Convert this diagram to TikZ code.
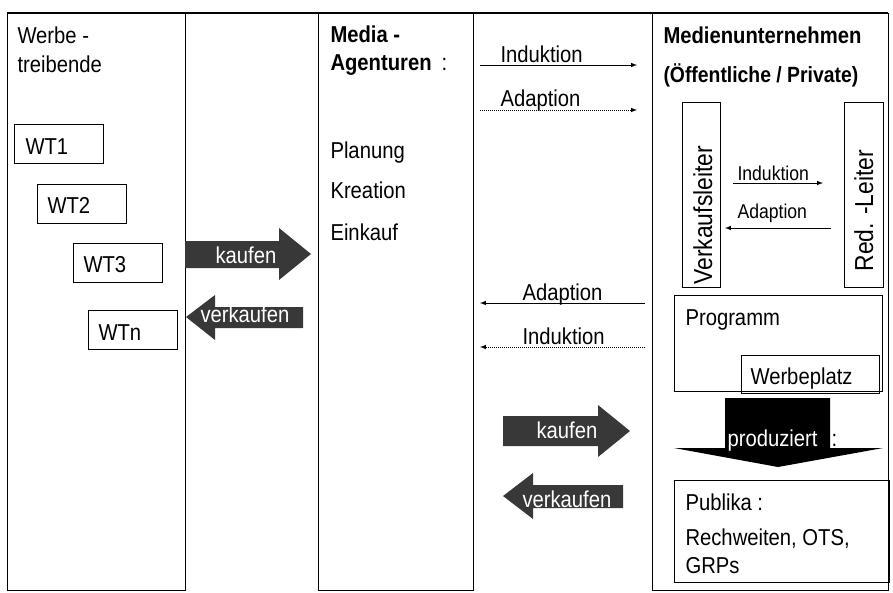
\documentclass[tikz,border=0pt]{standalone}
\usepackage{fontspec}
\setmainfont{Liberation Sans}[FakeStretch=0.88]
\begin{document}
\begin{tikzpicture}[x=1pt,y=-1pt,line width=1pt,font=\fontsize{23}{27}\selectfont,
  txt/.style={anchor=base west,inner sep=0pt},
  wtxt/.style={txt,text=white},
  box/.style={draw,anchor=north west,inner sep=0pt},
  wtbox/.style={box,minimum width=89pt,minimum height=39pt},
  blk/.style={fill=black!78,draw=none}]
\pgfmathsetmacro{\ktop}{13}
\pgfmathsetmacro{\kbot}{590}
\useasboundingbox (0,0) rectangle (893,592);
%columns
\draw (7,\ktop) rectangle (185,\kbot);
\draw (318,\ktop) rectangle (473,\kbot);
\draw (652,\ktop) rectangle (888,\kbot);
\draw[line width=2pt] (7,\ktop)--(888,\ktop);
%werbetreibende
\node[txt] (wt) at (17,43) {Werbe -};
\node[txt] (wtb) at (17,72) {treibende};
\node[wtbox] (wt1) at (14,124) {};
\node[wtbox] (wt2) at (37,184) {};
\node[wtbox] (wt3) at (73,243) {};
\node[wtbox] (wtn) at (88,310) {};
\node[txt] at (25,154) {WT1};
\node[txt] at (47,213) {WT2};
\node[txt] at (83,272) {WT3};
\node[txt] at (98,340) {WTn};
%agenturen
\node[txt,font=\fontsize{23}{27}\selectfont\bfseries] (ma) at (330,42) {Media -};
\node[txt] (mb) at (330,70) {\textbf{Agenturen}\hspace{10pt}:};
\node[txt] (pl) at (330,158) {Planung};
\node[txt] (kr) at (330,198) {Kreation};
\node[txt] (ek) at (330,240) {Einkauf};
%block arrows
\draw[blk] (185,241)--++(94,0)--++(0,-13)--(311,254)--(279,280)--++(0,-12)--(185,268)--cycle;
\node[wtxt] (k1) at (215,263) {kaufen};
\draw[blk] (186,317)--(215,295)--++(0,12)--(303,307)--++(0,21)--(215,328)--++(0,12)--cycle;
\node[wtxt] (v1) at (200,322) {verkaufen};
\draw[blk] (503,416)--++(95,0)--++(0,-11)--(630,431)--(598,457)--++(0,-11)--(503,446)--cycle;
\node[wtxt] (k2) at (536,438) {kaufen};
\draw[blk] (503,496)--(533,473)--++(0,12)--(623,485)--++(0,23)--(533,508)--++(0,11)--cycle;
\node[wtxt] (v2) at (522,507) {verkaufen};
%induktion / adaption
\coordinate (ia) at (480,65); \coordinate (ib) at (637,65);
\coordinate (aa) at (480,110); \coordinate (ab) at (637,110);
\coordinate (ac) at (645,303); \coordinate (ad) at (480,303);
\coordinate (ic) at (645,347); \coordinate (id) at (480,347);
\draw[-latex] (ia)--(ib);
\draw[-latex,densely dotted] (aa)--(ab);
\draw[-latex] (ac)--(ad);
\draw[-latex,densely dotted] (ic)--(id);
\node[txt] at (500,62) {Induktion};
\node[txt] at (500,106) {Adaption};
\node[txt] at (522,300) {Adaption};
\node[txt] at (522,344) {Induktion};
%medienunternehmen
\node[txt,font=\fontsize{23}{27}\selectfont\bfseries] (mu) at (663,43) {Medienunternehmen};
\node[txt,font=\fontsize{22}{26}\selectfont\bfseries] (op) at (663,82) {(Öffentliche / Private)};
\node[box,minimum width=38pt,minimum height=185pt] (vkl) at (682,102) {};
\node[box,minimum width=39pt,minimum height=185pt] (rl) at (844,102) {};
\node[txt,rotate=90,font=\fontsize{26}{30}\selectfont] at (712,285) {Verkaufsleiter};
\node[txt,rotate=90,font=\fontsize{26}{30}\selectfont] at (873,272) {Red. -Leiter};
\coordinate (va) at (733,183); \coordinate (vb) at (823,183);
\coordinate (ra) at (831,228); \coordinate (rb) at (725,228);
\draw[-latex] (va)--(vb);
\draw[-latex] (ra)--(rb);
\node[txt,font=\fontsize{20}{24}\selectfont] at (737,180) {Induktion};
\node[txt,font=\fontsize{20}{24}\selectfont] at (737,218) {Adaption};
\node[box,minimum width=208pt,minimum height=96pt] (pg) at (674,295) {};
\node[txt] at (685,325) {Programm};
\node[box,minimum width=138pt,minimum height=38pt] (wp) at (741,355) {};
\node[txt] at (750,384) {Werbeplatz};
%produziert
\draw[fill=black,draw=none] (725,398)--++(105,0)--++(0,50)--(883,448)--(778,467)--(674,448)--(725,448)--cycle;
\node[wtxt] (pr) at (727,446) {produziert};
\node[txt] at (831,446) {:};
\node[box,minimum width=215pt,minimum height=102pt] (pb) at (674,480) {};
\node[txt] at (685,510) {Publika :};
\node[txt] at (685,545) {Rechweiten, OTS,};
\node[txt] at (685,573) {GRPs};
\end{tikzpicture}
\end{document}
